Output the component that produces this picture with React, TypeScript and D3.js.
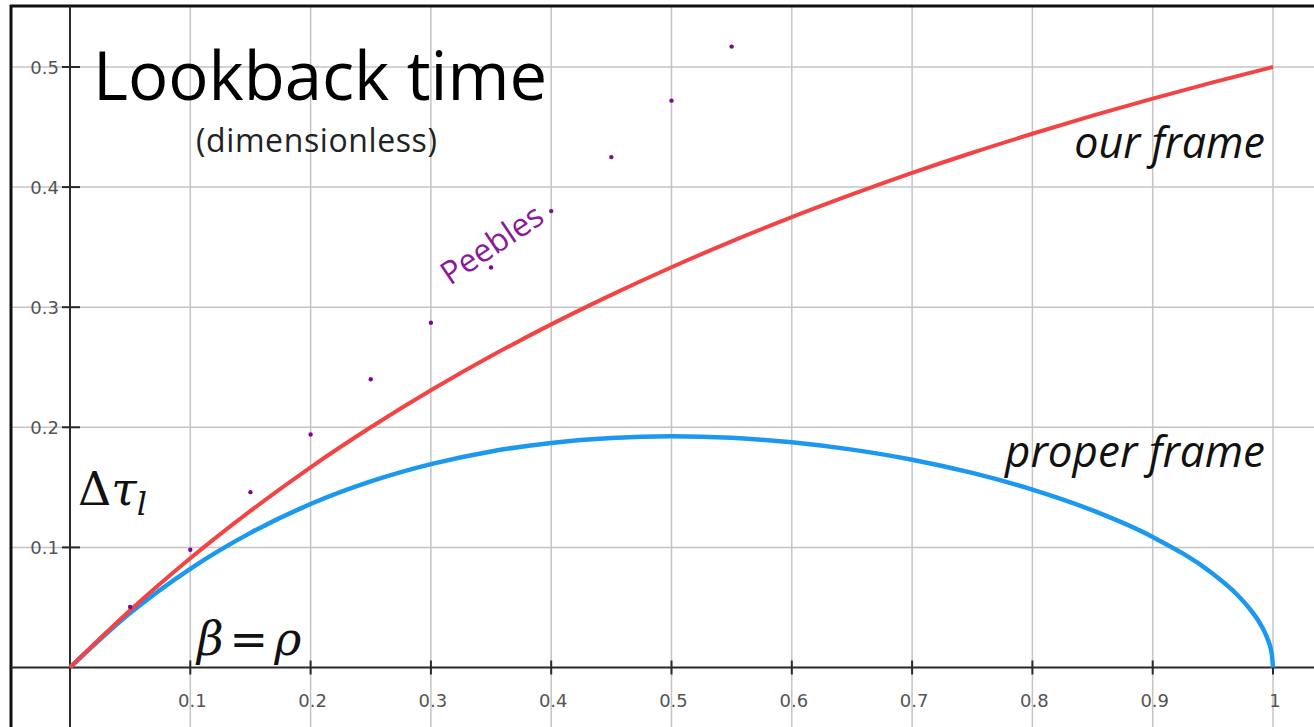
import React from "react";
import * as d3 from "d3";

const W = 1314;
const H = 727;

const xTicks = [0.1, 0.2, 0.3, 0.4, 0.5, 0.6, 0.7, 0.8, 0.9, 1];
const xTickLabels = ["0.1", "0.2", "0.3", "0.4", "0.5", "0.6", "0.7", "0.8", "0.9", "1"];
const yTicks = [0.1, 0.2, 0.3, 0.4, 0.5];
const yTickLabels = ["0.1", "0.2", "0.3", "0.4", "0.5"];

const ourFrameBeta = [0, 0.05, 0.1, 0.15, 0.2, 0.25, 0.3, 0.35, 0.4, 0.45, 0.5, 0.55, 0.6, 0.65, 0.7, 0.75, 0.8, 0.85, 0.9, 0.95, 1];
const ourFrameTau = [0, 0.0476, 0.0909, 0.1304, 0.1667, 0.2, 0.2308, 0.2593, 0.2857, 0.3103, 0.3333, 0.3548, 0.375, 0.3939, 0.4118, 0.4286, 0.4444, 0.4595, 0.4737, 0.4872, 0.5];

const properFrameBeta = [0, 0.05, 0.1, 0.15, 0.2, 0.25, 0.3, 0.35, 0.4, 0.45, 0.5, 0.55, 0.6, 0.65, 0.7, 0.75, 0.8, 0.85, 0.9, 0.95, 0.97, 0.98, 0.99, 0.995, 0.999, 1];
const properFrameTau = [0, 0.0453, 0.0822, 0.1121, 0.1361, 0.1549, 0.1693, 0.1799, 0.187, 0.1911, 0.1925, 0.1912, 0.1875, 0.1814, 0.173, 0.162, 0.1481, 0.1308, 0.1087, 0.078, 0.0608, 0.0497, 0.0353, 0.025, 0.0112, 0];

const peeblesBeta = [0.05, 0.1, 0.15, 0.2, 0.25, 0.3, 0.35, 0.4, 0.45, 0.5, 0.55];
const peeblesTau = [0.0504, 0.098, 0.146, 0.194, 0.24, 0.287, 0.333, 0.38, 0.425, 0.472, 0.517];

export default function App() {
  const x = d3.scaleLinear().domain([0, 1]).range([70, 1273]);
  const y = d3.scaleLinear().domain([0, 0.5]).range([667.5, 67]);

  const line = d3
    .line<[number, number]>()
    .x((d) => x(d[0]))
    .y((d) => y(d[1]))
    .curve(d3.curveMonotoneX);

  const ourPts: [number, number][] = ourFrameBeta.map((b, i) => [b, ourFrameTau[i]]);
  const propPts: [number, number][] = properFrameBeta.map((b, i) => [b, properFrameTau[i]]);

  const grid = "#c4c4c4";
  const axisCol = "#2a2a2a";
  const tickFont = "'DejaVu Sans', sans-serif";
  const textFont = "'Open Sans', 'Noto Sans', sans-serif";

  return (
    <svg
      width={W}
      height={H}
      style={{ position: "absolute", left: 0, top: 0, background: "#fff" }}
    >
      <rect x={0} y={0} width={W} height={H} fill="#fff" />
      {/* grid */}
      {xTicks.map((t) => (
        <line key={"gx" + t} x1={x(t)} x2={x(t)} y1={6} y2={H} stroke={grid} strokeWidth={1.5} />
      ))}
      {yTicks.map((t) => (
        <line key={"gy" + t} x1={11} x2={W} y1={y(t)} y2={y(t)} stroke={grid} strokeWidth={1.5} />
      ))}
      {/* frame */}
      <line x1={11} x2={11} y1={5} y2={H} stroke="#111" strokeWidth={3} />
      <line x1={10} x2={W} y1={6} y2={6} stroke="#111" strokeWidth={3} />
      {/* axes */}
      <line x1={11} x2={W} y1={y(0)} y2={y(0)} stroke={axisCol} strokeWidth={2} />
      <line x1={x(0)} x2={x(0)} y1={6} y2={H} stroke={axisCol} strokeWidth={2} />
      {xTicks.map((t, i) => (
        <g key={"xt" + t}>
          <line x1={x(t)} x2={x(t)} y1={y(0) - 7} y2={y(0) + 7} stroke={axisCol} strokeWidth={2} />
          <text
            x={x(t) + 2}
            y={707}
            textAnchor="middle"
            fontFamily={tickFont}
            fontSize={18}
            fill="#555"
          >
            {xTickLabels[i]}
          </text>
        </g>
      ))}
      {yTicks.map((t, i) => (
        <g key={"yt" + t}>
          <line x1={x(0) - 8} x2={x(0) + 10} y1={y(t)} y2={y(t)} stroke={axisCol} strokeWidth={2} />
          <text
            x={59}
            y={y(t) + 6.5}
            textAnchor="end"
            fontFamily={tickFont}
            fontSize={18}
            fill="#555"
          >
            {yTickLabels[i]}
          </text>
        </g>
      ))}

      {/* curves */}
      <path d={line(propPts) || ""} fill="none" stroke="#1c98ee" strokeWidth={4.5} />
      <path d={line(ourPts) || ""} fill="none" stroke="#f24444" strokeWidth={4} />

      {/* peebles points */}
      {peeblesBeta.map((b, i) => (
        <circle key={"p" + b} cx={x(b)} cy={y(peeblesTau[i])} r={2.2} fill="#7a0a8a" />
      ))}

      {/* texts */}
      <text x={93} y={100} fontFamily={textFont} fontSize={67} fill="#000">
        Lookback time
      </text>
      <text x={196} y={152} fontFamily={textFont} fontSize={32} letterSpacing={0.6} fill="#222">
        (dimensionless)
      </text>
      <text x={1265} y={158} textAnchor="end" fontFamily={textFont} fontStyle="italic" fontSize={43} fill="#111">
        our frame
      </text>
      <text x={1265} y={467} textAnchor="end" fontFamily={textFont} fontStyle="italic" fontSize={44} fill="#111">
        proper frame
      </text>
      <text
        x={450}
        y={286}
        transform="rotate(-34 450 286)"
        fontFamily={textFont}
        fontSize={32}
        fill="#8a1a9a"
      >
        Peebles
      </text>
      <text x={78} y={505} fontFamily="'DejaVu Serif', 'Liberation Serif', serif" fontSize={46} fill="#111">
        Δ<tspan fontStyle="italic">τ</tspan>
        <tspan fontStyle="italic" fontSize={32} dy={10}>l</tspan>
      </text>
      <text x={197} y={655} fontFamily="'DejaVu Serif', 'Liberation Serif', serif" fontSize={46} fill="#111">
        <tspan fontStyle="italic">β</tspan>
        <tspan dx={6}>=</tspan>
        <tspan dx={6} fontStyle="italic">ρ</tspan>
      </text>
    </svg>
  );
}
